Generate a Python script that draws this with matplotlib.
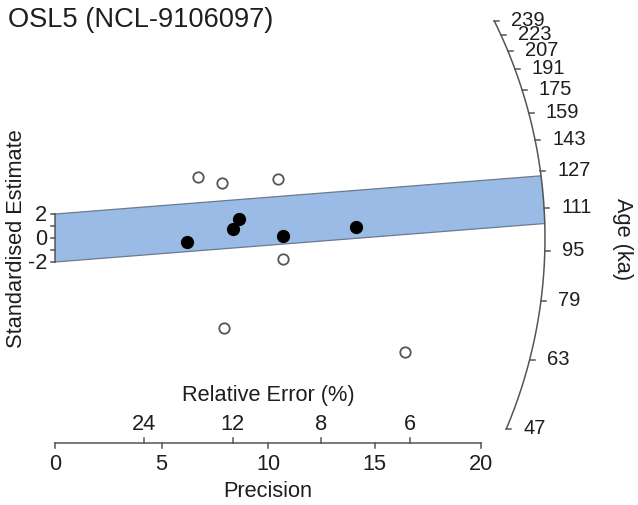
import numpy as np
import matplotlib
matplotlib.use("Agg")
from matplotlib import pyplot as plt
from matplotlib.patches import Polygon

plt.rcParams['font.family'] = ['Liberation Sans', 'DejaVu Sans']

title = "OSL5 (NCL-9106097)"

# aliquots inside the 2-sigma band (precision, standardised estimate)
precision_in = [6.18, 8.37, 8.65, 10.72, 14.13]
estimate_in = [-0.36, 0.75, 1.58, 0.19, 0.89]
# aliquots outside the band
precision_out = [6.73, 7.85, 10.49, 10.72, 7.95, 16.43]
estimate_out = [5.06, 4.56, 4.92, -1.75, -7.50, -9.53]

age_ticks = [47, 63, 79, 95, 111, 127, 143, 159, 175, 191, 207, 223, 239]
precision_ticks = [0, 5, 10, 15, 20]
rel_error_ticks = [24, 12, 8, 6]

ref_age = 99.5        # age along the horizontal ray
central_age = 114.4   # age of the shaded band
band_sigma = 2

W, H = 638, 506
xlim = (-2.582, 27.37)
ylim = (-22.25, 19.92)
sx = W / (xlim[1] - xlim[0])   # pixels per precision unit
sy = H / (ylim[1] - ylim[0])   # pixels per standardised unit
R = 490.0                      # arc radius in pixels

band_col = '#9ABBE5'
line_col = '#555555'
txt_col = '#1e1e1e'
fs = 15.7


def arc_xy(theta):
    return R * np.cos(theta) / sx, R * np.sin(theta) / sy


def age_point(age):
    s = np.log(age) - np.log(ref_age)
    x = R / np.hypot(sx, sy * s)
    return x, s * x


def age_angle(age):
    x, y = age_point(age)
    return np.arctan2(sy * y, sx * x)


def edge_hit(c, k):
    # where the line y = c + k*x meets the arc
    a = sx ** 2 + (sy * k) ** 2
    b = 2 * sy ** 2 * k * c
    cc = (sy * c) ** 2 - R ** 2
    x = (-b + np.sqrt(b * b - 4 * a * cc)) / (2 * a)
    return x, c + k * x


fig = plt.figure(figsize=(W / 100, H / 100), dpi=100)
ax = fig.add_axes([0, 0, 1, 1])
ax.set_xlim(*xlim)
ax.set_ylim(*ylim)
ax.axis('off')

# shaded band around the central age
k = np.log(central_age) - np.log(ref_age)
xu, yu = edge_hit(band_sigma, k)
xl, yl = edge_hit(-band_sigma, k)
tu = np.arctan2(sy * yu, sx * xu)
tl = np.arctan2(sy * yl, sx * xl)
bx, by = arc_xy(np.linspace(tu, tl, 50))
poly_x = np.concatenate([[0], bx, [0]])
poly_y = np.concatenate([[band_sigma], by, [-band_sigma]])
ax.add_patch(Polygon(np.column_stack([poly_x, poly_y]), closed=True,
                     facecolor=band_col, edgecolor='none', zorder=1))
ax.plot([0, xu], [band_sigma, yu], color='#6b7a8c', lw=0.9, zorder=2)
ax.plot([0, xl], [-band_sigma, yl], color='#6b7a8c', lw=0.9, zorder=2)

# age arc with ticks and labels
th = np.linspace(age_angle(age_ticks[0]), age_angle(age_ticks[-1]), 200)
cx, cy = arc_xy(th)
ax.plot(cx, cy, color=line_col, lw=1.1, zorder=3)
for age in age_ticks:
    x, y = age_point(age)
    ax.plot([x, x + 5 / sx], [y, y], color=line_col, lw=1.1, zorder=3)
    ax.text(x + 17 / sx, y + 1.5 / sy, str(age), fontsize=14.5, ha='left',
            va='center', color=txt_col)
ax.text(xlim[0] + 623 / sx, 0, "Age (ka)", rotation=-90, fontsize=fs,
        ha='center', va='center', color=txt_col)

# standardised estimate axis
ax.plot([0, 0], [-band_sigma, band_sigma], color=line_col, lw=1.1)
for v in [-2, -1, 0, 1, 2]:
    ax.plot([0, -4 / sx], [v, v], color=line_col, lw=1.1)
for v in [-2, 0, 2]:
    ax.text(-8 / sx, v, str(v), fontsize=fs, ha='right', va='center',
            color=txt_col)
ax.text(xlim[0] + 17 / sx, 0, "Standardised Estimate", rotation=90,
        fontsize=fs, ha='center', va='center', color=txt_col)

# precision / relative error axis
y_ax = ylim[1] - 444 / sy
ax.plot([precision_ticks[0], precision_ticks[-1]], [y_ax, y_ax],
        color=line_col, lw=1.1)
for p in precision_ticks:
    ax.plot([p, p], [y_ax, y_ax - 5 / sy], color=line_col, lw=1.1)
    ax.text(p, y_ax - 10 / sy, str(p), fontsize=fs, ha='center', va='top',
            color=txt_col)
for r in rel_error_ticks:
    p = 100 / r
    ax.plot([p, p], [y_ax, y_ax + 5 / sy], color=line_col, lw=1.1)
    ax.text(p, y_ax + 9 / sy, str(r), fontsize=fs, ha='center',
            va='bottom', color=txt_col)
ax.text(10, y_ax - 48 / sy, "Precision", fontsize=fs, ha='center',
        va='center', color=txt_col)
ax.text(10, y_ax + 48 / sy, "Relative Error (%)", fontsize=fs,
        ha='center', va='center', color=txt_col)

# aliquots
ax.plot(precision_in, estimate_in, 'o', color='black', ms=8.5, zorder=5)
ax.plot(precision_out, estimate_out, 'o', mfc='white', mec='#555555',
        mew=1.3, ms=7.5, zorder=5)

fig.text(8 / W, 1 - 20 / H, title, fontsize=19.6, ha='left', va='center',
         color=txt_col)

fig.savefig("out.png", dpi=100)
